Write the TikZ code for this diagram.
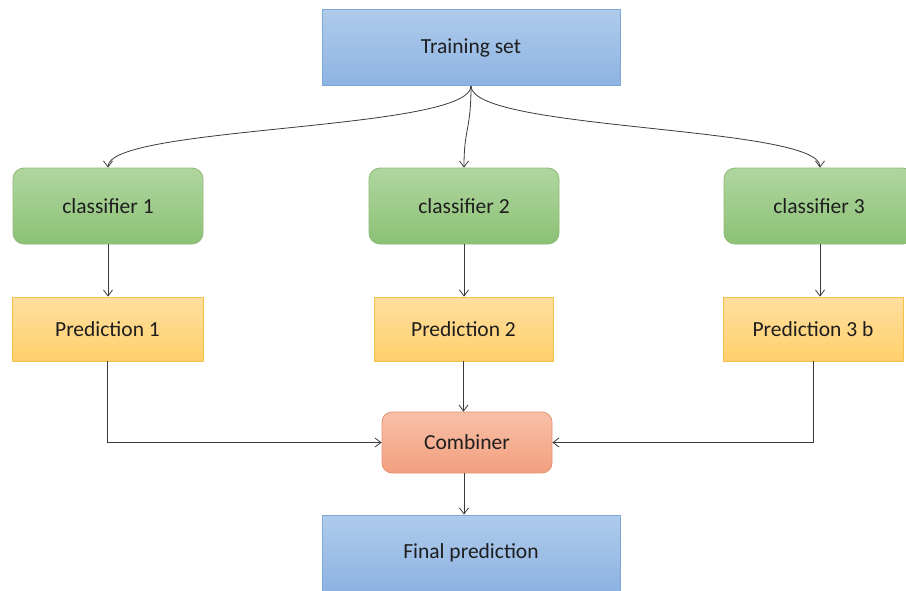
\documentclass[tikz,border=0pt]{standalone}
\usepackage{fontspec}
\setmainfont{Carlito}
\usetikzlibrary{arrows.meta,calc}

\definecolor{bluetop}{HTML}{AFCBEB}
\definecolor{bluebot}{HTML}{8DB3E2}
\definecolor{blueline}{HTML}{7EA6D6}
\definecolor{greentop}{HTML}{B0D6A0}
\definecolor{greenbot}{HTML}{8CC175}
\definecolor{greenline}{HTML}{8DBA76}
\definecolor{yellowtop}{HTML}{FFDFA0}
\definecolor{yellowbot}{HTML}{FFCF6A}
\definecolor{yellowline}{HTML}{F4C24A}
\definecolor{orangetop}{HTML}{F8C0A6}
\definecolor{orangebot}{HTML}{F39F80}
\definecolor{orangeline}{HTML}{E39274}
\definecolor{txt}{HTML}{1E1E1E}
\definecolor{wire}{HTML}{3A3A3A}

\tikzset{
  base/.style={inner sep=0pt, text=txt, font=\fontsize{21.5}{24}\selectfont, line width=0.8pt},
  bluebox/.style={base, rectangle, minimum width=298pt, minimum height=76pt,
    draw=blueline, top color=bluetop, bottom color=bluebot},
  greenbox/.style={base, rectangle, rounded corners=11pt, minimum width=190pt, minimum height=76pt,
    draw=greenline, top color=greentop, bottom color=greenbot},
  yellowbox/.style={base, rectangle, minimum height=64pt,
    draw=yellowline, top color=yellowtop, bottom color=yellowbot},
  orangebox/.style={base, rectangle, rounded corners=10pt, minimum width=170pt, minimum height=61pt,
    draw=orangeline, top color=orangetop, bottom color=orangebot},
  link/.style={draw=wire, line width=0.8pt, -{Straight Barb[length=6pt,width=9pt]}}
}

\begin{document}
\begin{tikzpicture}[x=1pt, y=-1pt]
  \useasboundingbox (0,0) rectangle (906,590);
  \begin{scope}
  \clip (0,0) rectangle (906,590);

  % boxes
  \node[bluebox] (ts) at (471,47.5) {Training set};
  \node[greenbox] (c1) at (108,206) {classifier 1};
  \node[greenbox] (c2) at (464,206) {classifier 2};
  \node[greenbox] (c3) at (819,206) {classifier 3};
  \node[yellowbox, minimum width=191pt] (p1) at (107.5,329) {Prediction 1};
  \node[yellowbox, minimum width=179pt] (p2) at (463.5,329) {Prediction 2};
  \node[yellowbox, minimum width=180pt] (p3) at (813,329) {Prediction 3 b};
  \node[orangebox] (cb) at (467,442.5) {Combiner};
  \node[bluebox, minimum height=76pt] (fp) at (471,553) {Final prediction};

  % training set fans out to the classifiers (y grows downward here)
  \draw[link] (ts.south) .. controls ($(ts.south)+(0,45)$) and ($(c1.north)+(0,-42)$) .. (c1.north);
  \draw[link] (ts.south) .. controls ($(ts.south)+(0,45)$) and ($(c2.north)+(0,-40)$) .. (c2.north);
  \draw[link] (ts.south) .. controls ($(ts.south)+(0,45)$) and ($(c3.north)+(1,-42)$) .. ($(c3.north)+(1,0)$);

  % classifiers to predictions
  \draw[link] (c1.south) -- (c1.south |- p1.north);
  \draw[link] (c2.south) -- (c2.south |- p2.north);
  \draw[link] ($(c3.south)+(1,0)$) -- ($(c3.south |- p3.north)+(1,0)$);

  % predictions to combiner
  \draw[link] (p1.south) |- (cb.west);
  \draw[link] (p2.south) -- (p2.south |- cb.north);
  \draw[link] (p3.south) |- (cb.east);

  % combiner to final prediction
  \draw[link] ($(cb.south)+(-3,0)$) -- ($(cb.south |- fp.north)+(-3,0)$);
  \end{scope}
\end{tikzpicture}
\end{document}
